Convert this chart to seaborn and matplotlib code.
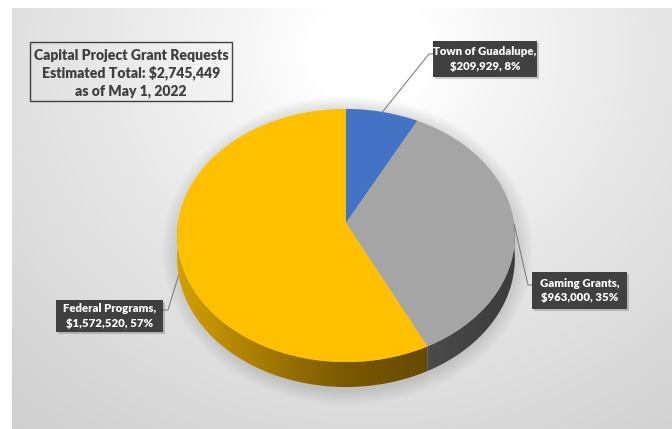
import numpy as np
import pandas as pd
import matplotlib
matplotlib.use("Agg")
import matplotlib.pyplot as plt
import seaborn as sns
from matplotlib.patches import Polygon, Rectangle
from matplotlib.colors import LinearSegmentedColormap

# ---------------- data ----------------
categories = ["Town of Guadalupe", "Gaming Grants", "Federal Programs"]
amounts = [209929, 963000, 1572520]
slice_colors = ["#4472C4", "#A5A5A5", "#FFC000"]
title_lines = ["Capital Project Grant Requests",
               "Estimated Total: $2,745,449",
               "as of May 1, 2022"]

df = pd.DataFrame({"category": categories, "amount": amounts, "color": slice_colors})
df["frac"] = df["amount"] / df["amount"].sum()
df["pct"] = (df["frac"] * 100).round().astype(int)

sns.set_theme(style="white")
plt.rcParams["font.family"] = ["Lato", "DejaVu Sans"]

W, H = 672, 429
fig = plt.figure(figsize=(6.72, 4.29), dpi=100)
fig.patch.set_facecolor("white")
ax = fig.add_axes([0, 0, 1, 1])

# ---------------- background gradient ----------------
gx0, gy0 = 12, 8
yy, xx = np.mgrid[gy0:H:1.0, gx0:W:1.0]
r = np.sqrt(((xx - 370) / 420) ** 2 + ((yy - 50) / 380) ** 2)
val = 1.0 - 0.165 * np.clip(r - 0.15, 0, 1.2) ** 0.85
ax.imshow(np.dstack([val] * 3), extent=(gx0, W, H, gy0), zorder=0,
          interpolation="bilinear", aspect="auto")

# ---------------- pie geometry ----------------
cx, cy = 346.0, 223.0
A, B, K = 168.0, 125.3, 0.0988
D0 = 22.5


def proj(theta_deg):
    th = np.radians(theta_deg)
    u, v = np.sin(th), np.cos(th)
    s = 1.0 / (1.0 + K * v)
    return cx + A * u * s, cy - B * v * s, s


# soft shadow under pie
ryy, rxx = np.mgrid[0:H:1.0, 0:W:1.0]
rr = np.sqrt(((rxx - 347) / 176) ** 2 + ((ryy - 250) / 146) ** 2)
alpha = 0.20 * np.clip((1.06 - rr) / 0.10, 0, 1)
sh = np.zeros((H, W, 4))
sh[..., :3] = 0.3
sh[..., 3] = alpha
ax.imshow(sh, extent=(0, W, H, 0), zorder=1, interpolation="bilinear", aspect="auto")

starts = np.concatenate([[0], np.cumsum(df["frac"].values)[:-1]]) * 360
ends = np.cumsum(df["frac"].values) * 360

side_cmaps = {
    "#FFC000": LinearSegmentedColormap.from_list("ys", ["#D2A000", "#A87C00", "#7A5900", "#664B00"]),
    "#A5A5A5": LinearSegmentedColormap.from_list("gs", ["#4A4A4A", "#3C3C3C"]),
    "#4472C4": LinearSegmentedColormap.from_list("bs", ["#2F5597", "#203864"]),
}

for t1, t2, col in zip(starts, ends, df["color"]):
    a, b = max(t1, 90), min(t2, 270)
    if b <= a:
        continue
    th = np.linspace(a, b, 120)
    xs, ys, ss = proj(th)
    poly = np.vstack([np.column_stack([xs, ys]),
                      np.column_stack([xs[::-1], (ys + D0 * ss)[::-1]])])
    patch = Polygon(poly, closed=True, facecolor="none", edgecolor="none", zorder=2)
    ax.add_patch(patch)
    x0, x1 = poly[:, 0].min(), poly[:, 0].max()
    y0, y1 = poly[:, 1].min(), poly[:, 1].max()
    grad = np.linspace(0, 1, 256)[None, :].repeat(4, axis=0)
    im = ax.imshow(grad, cmap=side_cmaps[col], extent=(x0, x1, y1, y0), zorder=2,
                   aspect="auto", interpolation="bilinear")
    im.set_clip_path(patch)

for t1, t2, col in zip(starts, ends, df["color"]):
    th = np.linspace(t1, t2, 200)
    xs, ys, _ = proj(th)
    pts = np.vstack([[cx, cy], np.column_stack([xs, ys])])
    ax.add_patch(Polygon(pts, closed=True, facecolor=col, edgecolor="none", zorder=3))

# ---------------- title box ----------------
ax.add_patch(Rectangle((30, 42), 202, 59, facecolor="none", edgecolor="#404040",
                       lw=1.0, zorder=5))
for i, line in enumerate(title_lines):
    ax.text(131, 55 + 18 * i, line.replace("$", r"\$"), ha="center", va="center",
            fontsize=10.1, fontweight="heavy", color="#404040", zorder=6)

# ---------------- data labels ----------------
label_boxes = [(433, 41, 104, 36), (532, 272, 95, 37), (56, 300, 107, 32)]
elbow_y = [54, 285, 310]
use_depth = [False, False, True]

for (bx, by, bw, bh), ey, dep, t1, t2, (_, row) in zip(label_boxes, elbow_y, use_depth,
                                                     starts, ends, df.iterrows()):
    mid = (t1 + t2) / 2
    axp, ayp, s = proj(mid)
    if dep:
        ayp = ayp + D0 * s
    if bx > axp:
        ex = bx
        pts = [(axp, ayp), (ex - 4, ey), (ex, ey)]
    else:
        ex = bx + bw
        pts = [(axp, ayp), (ex + 5, ey), (ex, ey)]
    pts = np.array(pts)
    ax.plot(pts[:, 0], pts[:, 1], color="#808080", lw=0.8, zorder=4)
    ax.add_patch(Rectangle((bx + 2, by + 2), bw, bh, facecolor="#000000", alpha=0.18,
                           edgecolor="none", zorder=6))
    ax.add_patch(Rectangle((bx, by), bw, bh, facecolor="#404040", edgecolor="none", zorder=7))
    txt = f"{row['category']},\n\\${row['amount']:,}, {row['pct']}%"
    ax.text(bx + bw / 2, by + bh / 2, txt, ha="center", va="center", fontsize=8.2,
            fontweight="heavy", color="white", linespacing=1.35, zorder=8)

ax.set_xlim(0, W)
ax.set_ylim(H, 0)
ax.axis("off")
fig.savefig("out.png", dpi=100, facecolor="white")
